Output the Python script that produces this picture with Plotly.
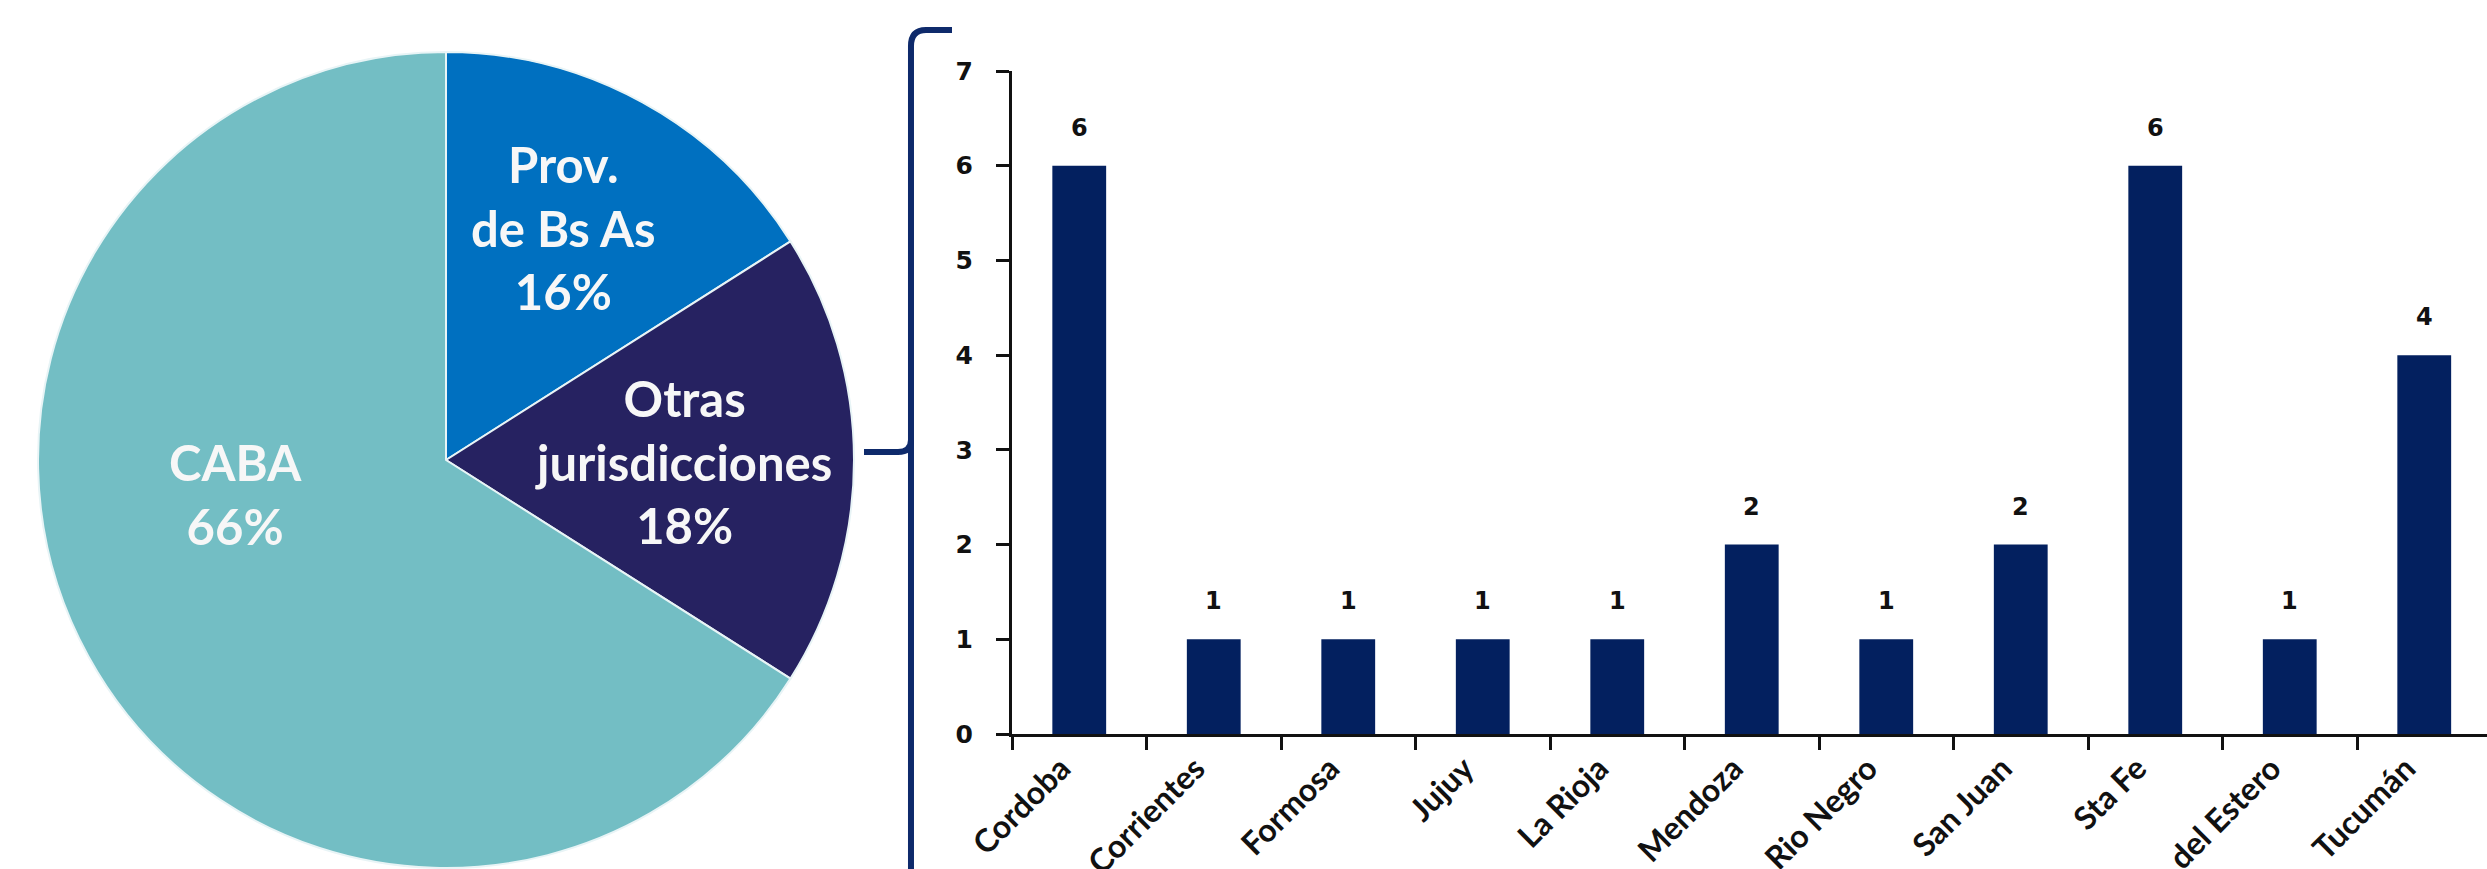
import plotly.graph_objects as go

W, H = 2487, 869

# ---- data ----
pie_labels = ["Prov. de Bs As", "Otras jurisdicciones", "CABA"]
pie_text = ["Prov.<br>de Bs As", "Otras<br>jurisdicciones", "CABA"]
pie_values = [16, 18, 66]
pie_colors = ["#0070C0", "#262261", "#73BEC4"]

provincias = ["Cordoba", "Corrientes", "Formosa", "Jujuy", "La Rioja", "Mendoza",
              "Rio Negro", "San Juan", "Sta Fe", "Sgo. del Estero", "Tucumán"]
cantidades = [6, 1, 1, 1, 1, 2, 1, 2, 6, 1, 4]
y_ticks = [0, 1, 2, 3, 4, 5, 6, 7]


def px(x):
    return x / W


def py(y):
    return 1 - y / H


fig = go.Figure()

fig.add_trace(go.Pie(
    labels=pie_labels, values=pie_values, sort=False, direction="clockwise",
    rotation=0, textinfo="none", hoverinfo="label+percent",
    marker=dict(colors=pie_colors, line=dict(color="#E8F4F6", width=2)),
    domain=dict(x=[px(38), px(854)], y=[py(868), py(52)]),
    showlegend=False,
))

fig.add_trace(go.Bar(
    x=provincias, y=cantidades, width=0.4, marker=dict(color="#03205F", line=dict(width=0)),
    showlegend=False, hoverinfo="x+y",
))

# bar value labels
for c, v in zip(provincias, cantidades):
    fig.add_annotation(x=c, y=v, xref="x", yref="y", text=str(v), showarrow=False,
                       yanchor="bottom", yshift=22,
                       font=dict(family="DejaVu Sans", size=24, color="#111111", weight="bold"))

# pie labels
pie_pos = [(563, 227), (683, 462), (235, 494)]
for t, v, (xx, yy) in zip(pie_text, pie_values, pie_pos):
    fig.add_annotation(x=px(xx), y=py(yy), xref="paper", yref="paper",
                       text=f"{t}<br>{v}%", showarrow=False,
                       xanchor="center", yanchor="middle",
                       font=dict(family="Lato", size=49, color="#F7F7F7", weight="bold"))

# bracket
def pth(points):
    s = ""
    for cmd, pts in points:
        s += cmd + " " + " ".join(f"{px(a):.5f},{py(b):.5f}" for a, b in pts) + " "
    return s.strip()

bracket = pth([("M", [(952, 30)]), ("L", [(926, 30)]), ("Q", [(911, 30), (911, 46)]),
               ("L", [(911, 900)])])
stub = pth([("M", [(864, 452)]), ("L", [(898, 452)]), ("Q", [(911, 452), (911, 440)])])
fig.add_shape(type="path", path=bracket, xref="paper", yref="paper",
              line=dict(color="#0E2A6B", width=6))
fig.add_shape(type="path", path=stub, xref="paper", yref="paper",
              line=dict(color="#0E2A6B", width=6))

fig.update_layout(
    width=W, height=H,
    margin=dict(l=0, r=0, t=0, b=0),
    paper_bgcolor="white", plot_bgcolor="white",
    xaxis=dict(domain=[px(1012), 1.0], range=[-0.5, -0.5 + (W - 1012) / 134.5],
               type="category", tickson="boundaries", ticks="outside", ticklen=13,
               tickwidth=3, tickcolor="#111111", showline=True, linecolor="#111111",
               linewidth=3, showgrid=False, tickangle=-45, automargin=False,
               ticklabelshift=-18,
               tickfont=dict(family="Lato", size=32, color="#111111", weight="bold")),
    yaxis=dict(domain=[py(734), py(71)], range=[0, 7], tickvals=y_ticks,
               ticks="outside", ticklen=13, tickwidth=3, tickcolor="#111111",
               showline=True, linecolor="#111111", linewidth=3, showgrid=False,
               zeroline=False, automargin=False, ticklabelstandoff=18,
               tickfont=dict(family="DejaVu Sans", size=25, color="#111111", weight="bold")),
    bargap=0.6,
)

fig.write_html("out.html")
